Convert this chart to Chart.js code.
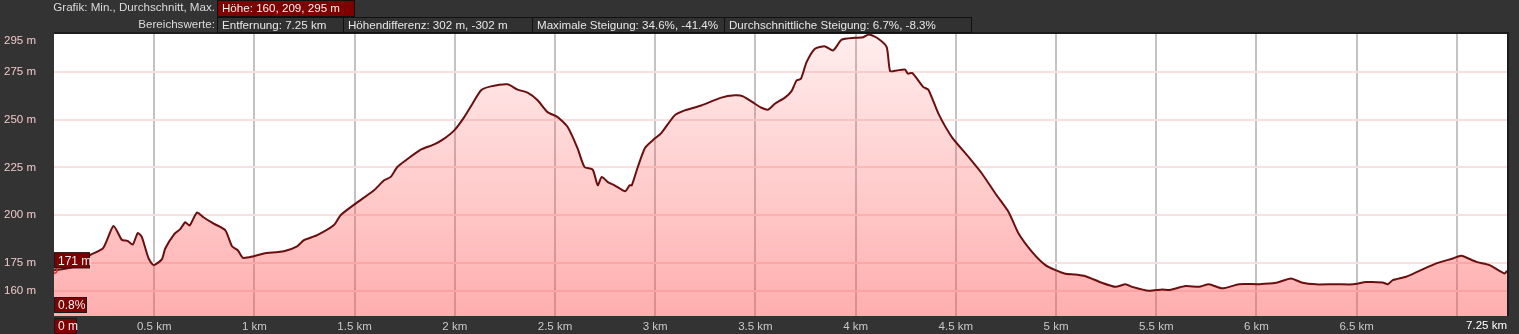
<!DOCTYPE html>
<html>
<head>
<meta charset="utf-8">
<script src="https://cdn.jsdelivr.net/npm/chart.js@4/dist/chart.umd.min.js"></script>
<style>
  html, body { margin: 0; padding: 0; background: #333333; }
  #wrap { position: relative; width: 1519px; height: 334px; overflow: hidden; }
  .hd { position: absolute; height: 16px; line-height: 16px; font: 11.6px "Liberation Sans", Arial, sans-serif; color: #dcdcdc; white-space: nowrap; }
  .lbl { text-align: right; }
  .box { box-sizing: border-box; border: 1px solid #111; padding-left: 4px; color: #e6e6e6; background: #313131; }
  .red { background: #7f0000; color: #f2f2f2; }
</style>
</head>
<body>
<div id="wrap">
  <canvas id="profile" width="1519" height="334"></canvas>
  <div class="hd lbl" style="left:0;top:0;width:215px;">Grafik: Min., Durchschnitt, Max.</div>
  <div class="hd box red" style="left:217px;top:0;width:138px;height:17px;">Höhe: 160, 209, 295 m</div>
  <div class="hd lbl" style="left:0;top:17px;width:215px;">Bereichswerte:</div>
  <div class="hd box" style="left:217px;top:17px;width:127px;">Entfernung: 7.25 km</div>
  <div class="hd box" style="left:343px;top:17px;width:190px;">Höhendifferenz: 302 m, -302 m</div>
  <div class="hd box" style="left:532px;top:17px;width:193px;">Maximale Steigung: 34.6%, -41.4%</div>
  <div class="hd box" style="left:724px;top:17px;width:248px;">Durchschnittliche Steigung: 6.7%, -8.3%</div>
</div>
<script>
// distance along the track (km) and elevation (m)
const distKm = [
  0.00, 0.09, 0.18, 0.245, 0.297, 0.338, 0.367, 0.393, 0.418, 0.438, 0.472, 0.497,
  0.538, 0.555, 0.60, 0.63, 0.655, 0.677, 0.713, 0.747, 0.797, 0.855, 0.888, 0.917,
  0.943, 0.997, 1.047, 1.147, 1.213, 1.247, 1.313, 1.397, 1.43, 1.505, 1.597, 1.647,
  1.68, 1.713, 1.755, 1.83, 1.897, 1.947, 1.997, 2.047, 2.088, 2.13, 2.18, 2.263,
  2.313, 2.363, 2.413, 2.463, 2.513, 2.563, 2.613, 2.647, 2.688, 2.713, 2.733, 2.763,
  2.797, 2.85, 2.872, 2.883, 2.913, 2.95, 2.997, 3.03, 3.097, 3.147, 3.23, 3.33,
  3.397, 3.438, 3.497, 3.53, 3.563, 3.597, 3.647, 3.68, 3.705, 3.727, 3.755, 3.797,
  3.847, 3.888, 3.93, 3.997, 4.038, 4.067, 4.113, 4.155, 4.172, 4.205, 4.247, 4.26,
  4.283, 4.338, 4.363, 4.413, 4.48, 4.563, 4.63, 4.697, 4.763, 4.813, 4.88, 4.947,
  4.997, 5.047, 5.097, 5.147, 5.23, 5.297, 5.347, 5.38, 5.463, 5.53, 5.563, 5.647,
  5.713, 5.763, 5.83, 5.913, 6.013, 6.097, 6.172, 6.23, 6.297, 6.397, 6.48, 6.547,
  6.63, 6.655, 6.68, 6.747, 6.813, 6.897, 6.98, 7.022, 7.097, 7.163, 7.238, 7.25
];
const elevM = [
  171, 172.5, 179, 182.6, 194.3, 187, 186.4, 184.5, 190.6, 188.5, 177.2, 173.7,
  176.7, 182.4, 190, 192.6, 196.2, 194.5, 201.3, 198.7, 195.5, 192, 183.6, 181.5,
  177.5, 178.4, 179.8, 181, 183.6, 186.8, 189.4, 194.7, 199.9, 206, 213, 218.2,
  220, 225.2, 228.7, 234.3, 237.1, 240.1, 244.4, 251.4, 258.4, 265.4, 267.5, 268.6,
  265.8, 264.2, 260.2, 254, 251.4, 246.2, 234.9, 225.2, 223.8, 215.6, 220, 217.3,
  215.6, 212.5, 215.6, 215.6, 225.2, 235.4, 240.1, 243, 252.3, 254.9, 257.5, 261.6,
  262.8, 262.3, 258.4, 256.3, 255.3, 258.4, 261.6, 265, 270.6, 271.5, 280.2, 287.3,
  288.5, 286.4, 292, 293, 293.3, 294.8, 292.5, 288.1, 275.5, 275.9, 276.3, 274.2,
  274.5, 267.1, 265.8, 253.2, 240.9, 230.5, 221.8, 211.3, 201.6, 190.3, 180.7, 173.7,
  171.1, 169.2, 168.8, 167.9, 164.4, 162.3, 163.7, 162.3, 160.2, 160.9, 160.6, 162.7,
  162.3, 163.7, 161.5, 163.7, 163.7, 164.4, 166.7, 164.4, 163.6, 163.7, 163.6, 164.8,
  164.6, 163.7, 165.8, 167.6, 170.7, 174.6, 177.2, 178.6, 175.4, 173.7, 169.3, 170.7
];
const xTicks = [0, 0.5, 1, 1.5, 2, 2.5, 3, 3.5, 4, 4.5, 5, 5.5, 6, 6.5, 7, 7.25];
const yTicks = [160, 175, 200, 225, 250, 275, 295];
const yMin = 147, yMax = 295, xMax = 7.25;

// cursor read-out at the start of the track
const cursorKm = 0, cursorElev = 171, cursorSlope = "0.8%";

Chart.defaults.font.family = '"Liberation Sans", Arial, sans-serif';
Chart.defaults.font.size = 11.5;

const points = distKm.map((d, i) => ({ x: d, y: elevM[i] }));

function box(ctx, text, x, y, w, h) {
  ctx.fillStyle = "#7f0000";
  ctx.fillRect(x, y, w, h);
  ctx.strokeStyle = "#1a1a1a";
  ctx.lineWidth = 1;
  ctx.strokeRect(x + 0.5, y + 0.5, w - 1, h - 1);
  ctx.fillStyle = "#f4f4f4";
  ctx.textAlign = "left";
  ctx.textBaseline = "middle";
  ctx.fillText(text, x + 4, y + h / 2 + 1);
}

const frame = {
  id: "frame",
  beforeDraw(chart) {
    const { ctx, chartArea: a } = chart;
    ctx.save();
    ctx.fillStyle = "#333333";
    ctx.fillRect(0, 0, chart.width, chart.height);
    ctx.fillStyle = "#ffffff";
    ctx.fillRect(a.left, a.top, a.right - a.left, a.bottom - a.top);
    ctx.restore();
  },
  afterDraw(chart) {
    const { ctx, chartArea: a, scales } = chart;
    const xs = scales.x, ys = scales.y;
    ctx.save();
    // dark frame top and right
    ctx.strokeStyle = "#1c1c1c";
    ctx.lineWidth = 2;
    ctx.beginPath();
    ctx.moveTo(a.left, a.top - 1);
    ctx.lineTo(a.right + 1, a.top - 1);
    ctx.lineTo(a.right + 1, a.bottom);
    ctx.stroke();

    ctx.font = '11.5px "Liberation Sans", Arial, sans-serif';
    // top y label sits just inside the frame
    ctx.fillStyle = "#f0c8c8";
    ctx.textAlign = "left";
    ctx.textBaseline = "middle";
    ctx.fillText(yMax + " m", 4, ys.getPixelForValue(yMax) + 7);

    // last distance label, right aligned to the end of the axis
    ctx.fillStyle = "#ffffff";
    ctx.textAlign = "right";
    ctx.textBaseline = "top";
    ctx.fillText(xMax + " km", xs.getPixelForValue(xMax), a.bottom + 4);

    // cursor boxes
    ctx.font = '12px "Liberation Sans", Arial, sans-serif';
    const cx = xs.getPixelForValue(cursorKm);
    const cy = ys.getPixelForValue(cursorElev);
    box(ctx, cursorElev + " m", cx, cy - 18, 36, 16);
    box(ctx, cursorSlope, cx, a.bottom - 19, 33, 16);
    box(ctx, "0 m", cx, a.bottom + 2, 23, 16);
    ctx.restore();
  }
};

new Chart(document.getElementById("profile"), {
  type: "line",
  data: {
    datasets: [{
      data: points,
      borderColor: "#6a0f0f",
      borderWidth: 2,
      tension: 0.2,
      pointRadius: c => (c.dataIndex === 0 ? 3 : 0),
      pointBorderColor: "#e03030",
      pointBackgroundColor: "rgba(0,0,0,0)",
      pointBorderWidth: 1.5,
      fill: "start",
      backgroundColor: c => {
        const a = c.chart.chartArea;
        if (!a) return "rgba(255,80,80,0.3)";
        const g = c.chart.ctx.createLinearGradient(0, a.top, 0, a.bottom);
        g.addColorStop(0, "rgba(255,80,80,0.10)");
        g.addColorStop(1, "rgba(255,70,70,0.44)");
        return g;
      }
    }]
  },
  options: {
    responsive: false,
    animation: false,
    layout: { padding: { left: 4, right: 12, top: 34, bottom: 0 } },
    plugins: { legend: { display: false }, tooltip: { enabled: false } },
    scales: {
      x: {
        type: "linear",
        min: 0,
        max: xMax,
        afterBuildTicks: s => { s.ticks = xTicks.map(v => ({ value: v })); },
        afterFit: s => { s.height = 18; },
        border: { display: false },
        grid: {
          drawTicks: false,
          lineWidth: 2,
          color: c => (c.tick && (c.tick.value === 0 || c.tick.value === xMax) ? "rgba(0,0,0,0)" : "#c3c3c3")
        },
        ticks: {
          autoSkip: false,
          maxRotation: 0,
          padding: 4,
          color: "#c8c8c8",
          callback: v => (v === 0 || v === 7 || v === xMax ? "" : v + " km")
        }
      },
      y: {
        min: yMin,
        max: yMax,
        afterBuildTicks: s => { s.ticks = yTicks.map(v => ({ value: v })); },
        afterFit: s => { s.width = 50; },
        border: { display: false },
        grid: {
          drawTicks: false,
          lineWidth: 2,
          color: c => (c.tick && c.tick.value === yMax ? "rgba(0,0,0,0)" : "#f8e0e0")
        },
        ticks: {
          crossAlign: "far",
          color: "#f0c8c8",
          callback: v => (v === yMax ? "" : v + " m")
        }
      }
    }
  },
  plugins: [frame]
});
</script>
</body>
</html>
